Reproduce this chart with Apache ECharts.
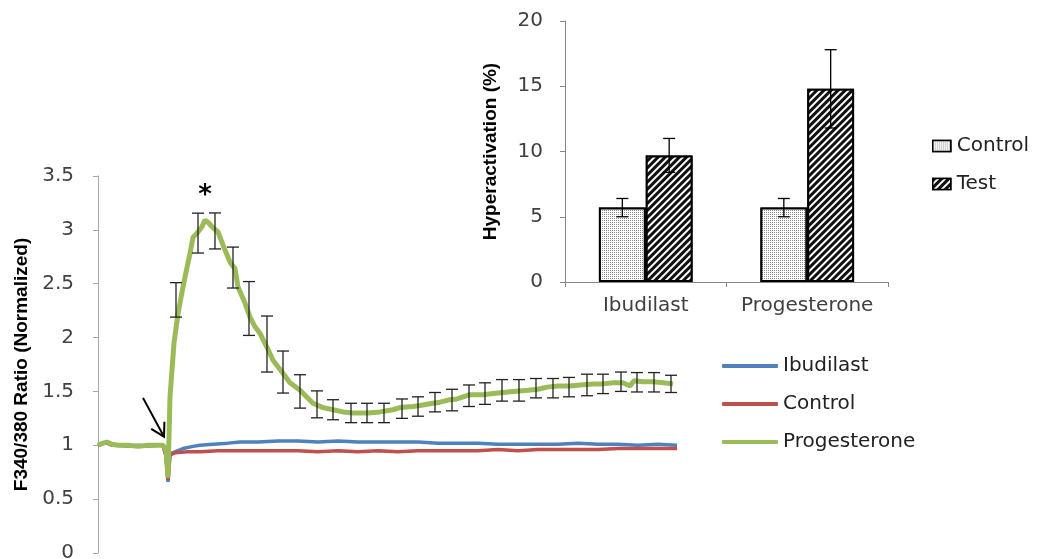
<!DOCTYPE html>
<html><head><meta charset="utf-8">
<script src="https://cdn.jsdelivr.net/npm/echarts@6/dist/echarts.min.js"></script>
<style>html,body{margin:0;padding:0;background:#fff}#c{width:1040px;height:559px}</style>
</head><body><div id="c"></div>
<script>
// ---------- Main calcium trace chart (time in arbitrary units) ----------
const lineNames = ['Ibudilast', 'Control', 'Progesterone'];
const ibudilastCurve = [[0,1.00],[5,1.02],[9,1.03],[14,1.01],[20,1.00],[30,0.99],[40,1.00],[50,0.99],[60,1.00],[65,1.00],[68,0.90],[70,0.66],[72,0.92],[77,0.94],[85,0.97],[95,0.99],[102,1.00],[115,1.01],[130,1.02],[142,1.03],[160,1.03],[180,1.04],[200,1.04],[220,1.03],[240,1.04],[260,1.03],[280,1.03],[300,1.03],[320,1.03],[340,1.02],[360,1.02],[380,1.02],[400,1.01],[420,1.01],[440,1.01],[460,1.01],[480,1.02],[500,1.01],[520,1.01],[540,1.00],[560,1.01],[579,1.00]];
const controlCurve = [[0,1.00],[5,1.02],[9,1.02],[14,1.00],[20,1.00],[30,1.00],[40,0.99],[50,1.00],[60,1.00],[65,1.00],[68,0.90],[70,0.68],[72,0.91],[77,0.93],[90,0.94],[102,0.94],[120,0.95],[140,0.95],[160,0.95],[180,0.95],[200,0.95],[220,0.94],[240,0.95],[260,0.94],[280,0.95],[300,0.94],[320,0.95],[340,0.95],[360,0.95],[380,0.95],[400,0.96],[420,0.95],[440,0.96],[460,0.96],[480,0.96],[500,0.96],[520,0.97],[540,0.97],[560,0.97],[579,0.97]];
const progesteroneCurve = [[0,1.00],[5,1.02],[9,1.03],[14,1.01],[20,1.00],[30,1.00],[40,0.99],[50,1.00],[60,1.00],[65,1.00],[68,0.95],[70,0.70],[72,1.45],[76,1.95],[80,2.22],[85,2.47],[89,2.65],[92,2.78],[95,2.93],[100,2.98],[104,3.03],[107,3.09],[110,3.07],[115,3.02],[120,2.98],[125,2.86],[132,2.70],[137,2.64],[140,2.47],[147,2.32],[152,2.19],[157,2.10],[162,2.04],[169,1.91],[175,1.79],[184,1.68],[192,1.58],[202,1.51],[215,1.39],[225,1.35],[235,1.33],[245,1.31],[255,1.30],[270,1.30],[282,1.31],[295,1.33],[302,1.35],[315,1.36],[322,1.37],[335,1.39],[342,1.40],[350,1.42],[359,1.43],[372,1.47],[385,1.47],[395,1.48],[405,1.49],[415,1.50],[430,1.51],[440,1.52],[449,1.54],[460,1.55],[472,1.55],[482,1.56],[495,1.57],[505,1.57],[515,1.58],[525,1.58],[532,1.55],[536,1.60],[545,1.59],[555,1.59],[565,1.58],[575,1.57]];
const progErrTimes = [78,100,117,135,151,169,185,202,219,235,253,269,286,304,320,337,354,371,387,404,421,438,455,471,489,505,523,539,556,573];
const progErrMeans = [2.35,2.97,2.99,2.65,2.27,1.94,1.68,1.50,1.38,1.33,1.30,1.30,1.30,1.34,1.36,1.40,1.42,1.46,1.48,1.51,1.51,1.53,1.53,1.54,1.56,1.57,1.59,1.585,1.585,1.57];
const progErrHalf  = [0.16,0.185,0.167,0.19,0.25,0.26,0.195,0.155,0.125,0.093,0.09,0.09,0.09,0.09,0.09,0.09,0.10,0.10,0.10,0.10,0.10,0.09,0.09,0.09,0.10,0.09,0.09,0.09,0.09,0.08];
const arrowFrom = [45, 1.44];
const arrowTo = [66, 1.08];
const starAt = [107, 3.31];
const starText = '*';
const mainYTitle = 'F340/380 Ratio (Normalized)';

// ---------- Inset bar chart ----------
const barCategories = ['Ibudilast', 'Progesterone'];
const barSeriesNames = ['Control ', 'Test'];
const controlPct = [5.7, 5.7];
const controlErr = [0.7, 0.7];
const testPct = [9.7, 14.8];
const testErr = [1.3, 3.0];
const insetYTitle = 'Hyperactivation (%)';

const FONT = "'DejaVu Sans', sans-serif";
const TITLE_FONT = "'Liberation Sans Narrow', 'Liberation Sans', sans-serif";
const BAR_CAT_GAP = 0.42;

const chart = echarts.init(document.getElementById('c'), null, {renderer: 'canvas'});

const errData = progErrTimes.map((t, i) => [t, progErrMeans[i], progErrHalf[i]]);
const barErrData = [];
barCategories.forEach((c, i) => {
  barErrData.push([i, controlPct[i], controlErr[i], 0]);
  barErrData.push([i, testPct[i], testErr[i], 1]);
});

function errRender(params, api) {
  const x = api.value(0), m = api.value(1), h = api.value(2);
  const top = api.coord([x, m + h]);
  const bot = api.coord([x, m - h]);
  const cap = 6;
  const st = {stroke: '#222', lineWidth: 1.3};
  return {type: 'group', children: [
    {type: 'line', shape: {x1: top[0], y1: top[1], x2: bot[0], y2: bot[1]}, style: st},
    {type: 'line', shape: {x1: top[0]-cap, y1: top[1], x2: top[0]+cap, y2: top[1]}, style: st},
    {type: 'line', shape: {x1: bot[0]-cap, y1: bot[1], x2: bot[0]+cap, y2: bot[1]}, style: st}
  ]};
}

function barErrRender(params, api) {
  const ci = api.value(0), m = api.value(1), h = api.value(2), s = api.value(3);
  const band = api.size([1, 0])[0];
  const bw = band * (1 - BAR_CAT_GAP) / 2;
  const off = (s === 0 ? -1 : 1) * bw / 2;
  const top = api.coord([ci, m + h]);
  const bot = api.coord([ci, m - h]);
  const x = top[0] + off;
  const cap = 6;
  const st = {stroke: '#000', lineWidth: 1.3};
  return {type: 'group', children: [
    {type: 'line', shape: {x1: x, y1: top[1], x2: x, y2: bot[1]}, style: st},
    {type: 'line', shape: {x1: x-cap, y1: top[1], x2: x+cap, y2: top[1]}, style: st},
    {type: 'line', shape: {x1: x-cap, y1: bot[1], x2: x+cap, y2: bot[1]}, style: st}
  ]};
}

function arrowRender(params, api) {
  const p1 = api.coord([api.value(0), api.value(1)]);
  const p2 = api.coord([api.value(2), api.value(3)]);
  const ang = Math.atan2(p1[1] - p2[1], p1[0] - p2[0]);
  const L = 15, a = Math.PI / 6;
  const h1 = [p2[0] + L * Math.cos(ang + a), p2[1] + L * Math.sin(ang + a)];
  const h2 = [p2[0] + L * Math.cos(ang - a), p2[1] + L * Math.sin(ang - a)];
  const st = {stroke: '#000', lineWidth: 2, fill: null};
  return {type: 'group', children: [
    {type: 'line', shape: {x1: p1[0], y1: p1[1], x2: p2[0], y2: p2[1]}, style: st},
    {type: 'polyline', shape: {points: [h1, p2, h2]}, style: st}
  ]};
}

const lineColors = ['#4f81bd', '#c0504d', '#9bbb59'];
const curves = [ibudilastCurve, controlCurve, progesteroneCurve];

const option = {
  animation: false,
  backgroundColor: '#fff',
  grid: [
    {left: 98, top: 176, width: 600, bottom: 6, containLabel: false, outerBoundsMode: 'none'},
    {left: 565, top: 21, right: 152, bottom: 277, containLabel: false, outerBoundsMode: 'none'}
  ],
  xAxis: [
    {type: 'value', gridIndex: 0, min: 0, max: 600, show: false},
    {type: 'category', gridIndex: 1, data: barCategories,
     axisLine: {show: true, lineStyle: {color: '#868686', width: 1}},
     axisTick: {show: true, length: 5, alignWithLabel: false, lineStyle: {color: '#868686'}},
     axisLabel: {color: '#404040', fontSize: 20, fontFamily: FONT, margin: 14, interval: 0, hideOverlap: false},
     splitLine: {show: false}}
  ],
  yAxis: [
    {type: 'value', gridIndex: 0, min: 0, max: 3.5, interval: 0.5,
     name: mainYTitle, nameLocation: 'middle', nameGap: 62,
     nameTextStyle: {color: '#000', fontSize: 19, fontWeight: 'bold', fontFamily: TITLE_FONT},
     axisLine: {show: true, lineStyle: {color: '#a6a6a6', width: 1}},
     axisTick: {show: true, length: 5, inside: false, lineStyle: {color: '#a6a6a6'}},
     axisLabel: {color: '#404040', fontSize: 20, fontFamily: FONT, margin: 24},
     splitLine: {show: false}},
    {type: 'value', gridIndex: 1, min: 0, max: 20, interval: 5,
     name: insetYTitle, nameLocation: 'middle', nameGap: 65,
     nameTextStyle: {color: '#000', fontSize: 19, fontWeight: 'bold', fontFamily: TITLE_FONT},
     axisLine: {show: true, lineStyle: {color: '#868686', width: 1}},
     axisTick: {show: true, length: 5, lineStyle: {color: '#868686'}},
     axisLabel: {color: '#404040', fontSize: 20, fontFamily: FONT, margin: 22},
     splitLine: {show: false}}
  ],
  legend: [
    {data: lineNames, orient: 'vertical', left: 722, top: 356, padding: 0, itemWidth: 56, itemHeight: 4,
     itemGap: 18, selectedMode: false, icon: 'roundRect',
     textStyle: {color: '#222', fontSize: 20, fontFamily: FONT, padding: [0, 0, 0, 0]}},
    {data: barSeriesNames, orient: 'vertical', left: 932, top: 136, padding: 0, itemWidth: 18, itemHeight: 11,
     itemGap: 18, selectedMode: false, icon: 'rect',
     itemStyle: {borderWidth: 1.5, borderColor: '#000'},
     textStyle: {color: '#222', fontSize: 20, fontFamily: FONT, padding: [0, 0, 0, 1]}}
  ],
  series: [
    ...curves.map((c, i) => ({
      type: 'line', name: lineNames[i], xAxisIndex: 0, yAxisIndex: 0,
      data: c, symbol: 'none', showSymbol: false, smooth: false,
      lineStyle: {color: lineColors[i], width: i === 2 ? 5 : 3.5},
      itemStyle: {color: lineColors[i]},
      z: 2 + i,
      markPoint: i === 2 ? {
        symbol: 'circle', symbolSize: 0,
        label: {show: true, position: 'inside', formatter: starText, color: '#000', fontSize: 26, fontWeight: 'bold', fontFamily: FONT},
        data: [{coord: starAt}]
      } : undefined
    })),
    {type: 'custom', name: 'err', xAxisIndex: 0, yAxisIndex: 0, renderItem: errRender, data: errData, z: 6, silent: true},
    {type: 'custom', name: 'arrow', xAxisIndex: 0, yAxisIndex: 0, renderItem: arrowRender,
     data: [[arrowFrom[0], arrowFrom[1], arrowTo[0], arrowTo[1]]], z: 7, silent: true,
     encode: {x: [0, 2], y: [1, 3]}},
    {type: 'bar', name: barSeriesNames[0], xAxisIndex: 1, yAxisIndex: 1, data: controlPct,
     barGap: '0%', barCategoryGap: (BAR_CAT_GAP * 100) + '%',
     itemStyle: {color: '#fff', borderColor: '#000', borderWidth: 2,
       decal: {symbol: 'rect', symbolSize: 1, color: '#8a8a8a', backgroundColor: '#fff', dashArrayX: [1, 1], dashArrayY: [1, 1], rotation: 0}}},
    {type: 'bar', name: barSeriesNames[1], xAxisIndex: 1, yAxisIndex: 1, data: testPct,
     barGap: '0%', barCategoryGap: (BAR_CAT_GAP * 100) + '%',
     itemStyle: {color: '#fff', borderColor: '#000', borderWidth: 2,
       decal: {symbol: 'rect', symbolSize: 1, color: '#111', backgroundColor: '#fff', dashArrayX: [1, 0], dashArrayY: [3, 2], rotation: -Math.PI / 4}}},
    {type: 'custom', name: 'barErr', xAxisIndex: 1, yAxisIndex: 1, renderItem: barErrRender, data: barErrData, z: 8, silent: true}
  ]
};
chart.setOption(option);
</script>
</body></html>
